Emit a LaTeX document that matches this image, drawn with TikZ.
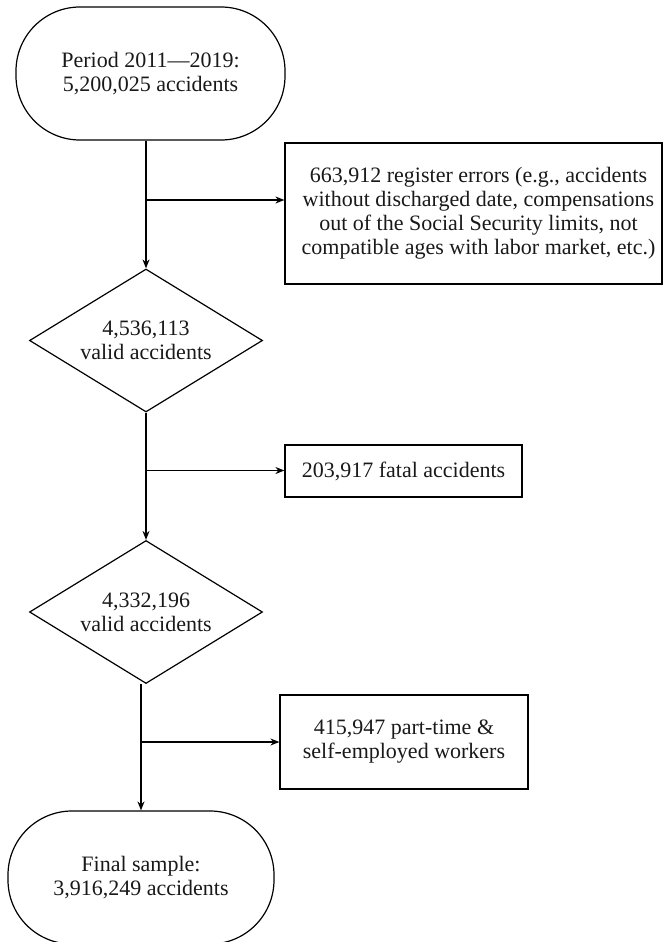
\documentclass[tikz,border=0pt]{standalone}
\usepackage{fontspec}
\setmainfont{Liberation Serif}
\usetikzlibrary{shapes.geometric,arrows.meta}
\begin{document}
\begin{tikzpicture}[x=1pt,y=-1pt,
  every node/.style={font=\fontsize{22}{24}\selectfont, align=center, line width=1.2pt, text=black!90},
  stadium/.style={draw, rectangle, rounded corners=64pt, minimum height=133pt, inner sep=0pt},
  decision/.style={draw, diamond, aspect=1.63, minimum width=233pt, minimum height=143pt, inner sep=0pt},
  outbox/.style={draw, rectangle, inner sep=0pt},
  flow/.style={line width=1.2pt, -{Stealth[length=9pt,width=7pt]}},
  plain/.style={line width=1.2pt}
]
\useasboundingbox (0,0) rectangle (664,942);

\node[stadium, minimum width=269pt] (start) at (150.5,73.5) {Period 2011—2019:\\5,200,025 accidents};
\node[decision] (d1) at (146,340.5) {4,536,113\\valid accidents};
\node[decision] (d2) at (146,612) {4,332,196\\valid accidents};
\node[stadium, minimum width=266pt] (final) at (141,877.5) {Final sample:\\3,916,249 accidents};

\node[outbox, minimum width=377pt, minimum height=141pt] (err) at (473.5,213.5)
  {\hspace*{10pt}663,912 register errors (e.g., accidents\\\hspace*{10pt}without discharged date, compensations\\\hspace*{10pt}out of the Social Security limits, not\\\hspace*{10pt}compatible ages with labor market, etc.)};
\node[outbox, minimum width=237pt, minimum height=52pt] (fatal) at (403.5,471) {203,917 fatal accidents};
\node[outbox, minimum width=248pt, minimum height=94pt] (part) at (404,742) {415,947 part-time \&\\self-employed workers};

\coordinate (j1) at (146,200);
\coordinate (j2) at (146,470.5);
\coordinate (j3) at (141,742);

\draw[flow] (d1.north |- start.south) -- (d1.north);
\draw[flow] (j1) -- (j1 -| err.west);
\draw[flow] (d1.south) -- (d2.north);
\draw[flow] (j2) -- (j2 -| fatal.west);
\draw[flow] (final.north |- d2.south) -- (final.north);
\draw[flow] (j3) -- (part.west);
\end{tikzpicture}
\end{document}
